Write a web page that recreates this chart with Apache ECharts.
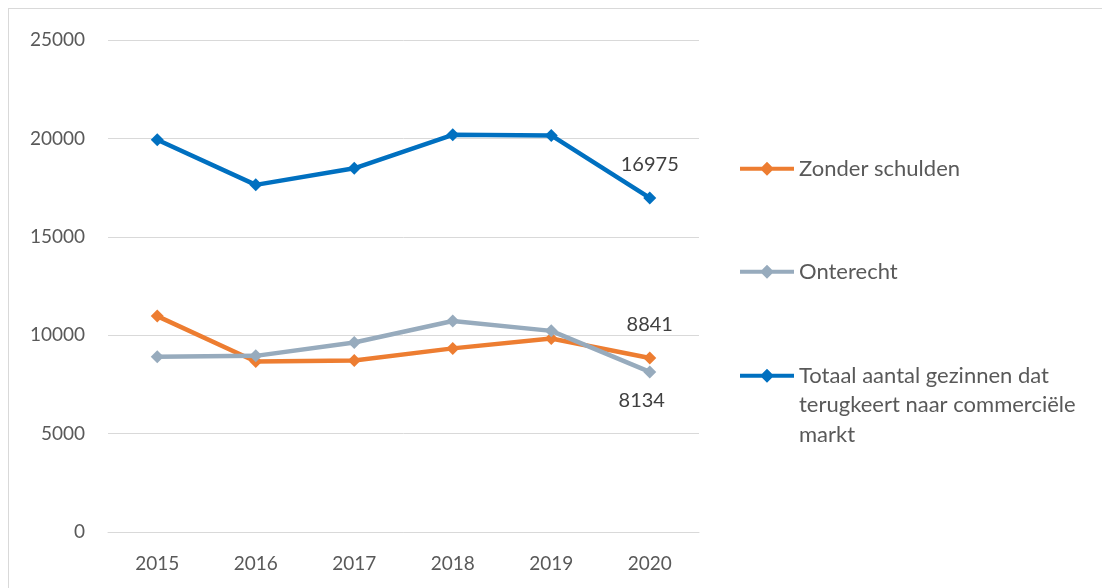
<!DOCTYPE html>
<html>
<head>
<meta charset="utf-8">
<script src="https://cdn.jsdelivr.net/npm/echarts@6/dist/echarts.min.js"></script>
<style>
  html, body { margin: 0; padding: 0; background: #fff; }
  #frame { position: absolute; left: 8px; top: 8px; width: 1120px; height: 600px; border: 1px solid #d9d9d9; }
  #chart { width: 1102px; height: 588px; position: absolute; left: 0; top: 0; }
</style>
</head>
<body>
<div id="frame"></div>
<div id="chart"></div>
<script>
let years = ['2015', '2016', '2017', '2018', '2019', '2020'];
let zonderSchulden = [10970, 8660, 8710, 9330, 9830, 8841];
let onterecht = [8910, 8950, 9630, 10720, 10220, 8134];
let totaal = [19930, 17640, 18480, 20180, 20150, 16975];

let seriesNames = ['Zonder schulden', 'Onterecht', 'Totaal aantal gezinnen dat\nterugkeert naar commerciële\nmarkt'];
let legendTops = [154, 257, 302];

let font = 'Lato, "Open Sans", sans-serif';
let chart = echarts.init(document.getElementById('chart'));

function lastLabel(position, distance, dx) {
  return {
    show: true,
    position: position,
    distance: distance,
    offset: [dx, 0],
    color: '#404040',
    fontSize: 20,
    fontFamily: font,
    formatter: p => p.dataIndex === years.length - 1 ? String(p.value) : ''
  };
}

function makeSeries(name, data, color, label) {
  return {
    name: name,
    type: 'line',
    data: data,
    symbol: 'diamond',
    symbolSize: 13,
    lineStyle: { width: 4.5, color: color },
    itemStyle: { color: color },
    label: label,
    z: 2
  };
}

// one legend per series so each can sit where it does in the original
let legends = seriesNames.map((name, i) => ({
  orient: 'vertical',
  left: 740,
  top: legendTops[i],
  padding: 0,
  itemWidth: 54,
  itemHeight: 26,
  itemGap: 5,
  icon: 'path://M0,11 L54,11 L54,15 L0,15 Z M27,6 L34,13 L27,20 L20,13 Z',
  // the long label keeps its first line level with the icon
  formatter: n => i === 2 ? '\n\n' + n : n,
  textStyle: { fontSize: 22, color: '#595959', lineHeight: 29.5, fontFamily: font },
  data: [name]
}));

let option = {
  animation: false,
  textStyle: { fontFamily: font },
  grid: { left: 108, right: 403, top: 40, bottom: 56 },
  legend: legends,
  xAxis: {
    type: 'category',
    data: years,
    axisLine: { lineStyle: { color: '#d9d9d9' } },
    axisTick: { show: false },
    axisLabel: { color: '#595959', fontSize: 19, margin: 22 }
  },
  yAxis: {
    type: 'value',
    min: 0,
    max: 25000,
    interval: 5000,
    axisLine: { show: false },
    axisTick: { show: false },
    splitLine: { lineStyle: { color: '#d9d9d9', width: 1 } },
    axisLabel: { color: '#595959', fontSize: 19, margin: 23, formatter: v => String(v) }
  },
  series: [
    makeSeries(seriesNames[0], zonderSchulden, '#ED7D31', lastLabel('top', 17, 0)),
    makeSeries(seriesNames[1], onterecht, '#97ABBD', lastLabel('bottom', 12, -8)),
    makeSeries(seriesNames[2], totaal, '#0070C0', lastLabel('top', 17, 0))
  ]
};

chart.setOption(option);
</script>
</body>
</html>
